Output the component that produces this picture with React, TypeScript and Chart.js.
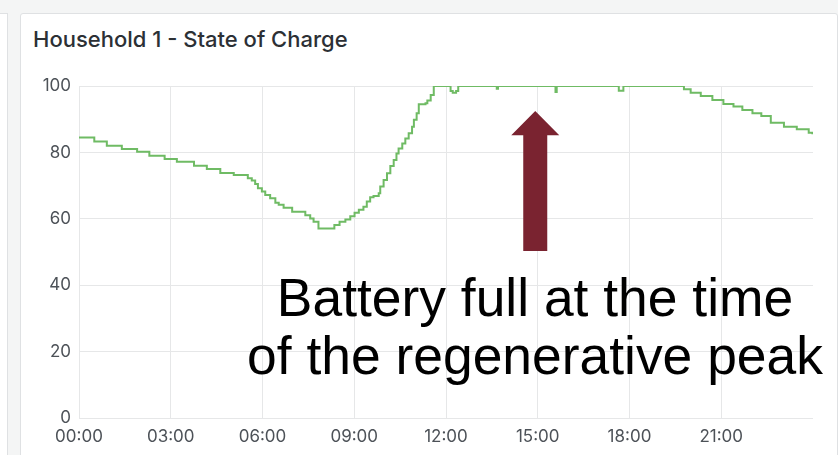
import React, { useEffect, useRef } from "react";
import { Chart, registerables } from "chart.js";

Chart.register(...registerables);

const title = "Household 1 - State of Charge";
const annotationLines = ["Battery full at the time", "of the regenerative peak"];

// time of day in hours
const hours = [
  0.0, 0.5, 0.91, 1.4, 1.9, 2.3, 2.8, 3.2, 3.76, 4.18, 4.62, 5.06, 5.52, 5.65, 5.76, 5.85, 5.98,
  6.09, 6.25, 6.42, 6.53, 6.69, 6.97, 7.4, 7.56, 7.67, 7.83, 8.35, 8.52, 8.71, 8.87, 9.01, 9.15,
  9.3, 9.41, 9.52, 9.63, 9.8, 9.85, 9.96, 10.07, 10.18, 10.29, 10.38, 10.45, 10.57, 10.67, 10.78,
  10.89, 10.95, 11.04, 11.11, 11.33, 11.39, 11.5, 11.6, 12.15, 12.22, 12.33, 12.4, 13.66, 13.7,
  15.58, 15.62, 17.65, 17.8, 19.78, 20.0, 20.33, 20.71, 21.07, 21.4, 21.69, 22.02, 22.31, 22.62,
  23.05, 23.47, 23.86, 23.98,
];
// state of charge in %
const soc = [
  84.5, 83.3, 82.0, 81.0, 80.2, 79.0, 78.0, 77.2, 76.0, 75.0, 73.8, 73.2, 72.2, 71.5, 70.5, 69.2, 68.2,
  67.2, 66.2, 64.8, 64.2, 63.3, 62.1, 61.1, 60.1, 59.1, 57.1, 58.1, 59.1, 59.8, 60.8, 61.8, 62.7,
  63.6, 65.2, 66.5, 66.9, 67.7, 69.7, 71.7, 73.7, 75.9, 77.7, 79.7, 81.2, 82.7, 84.2, 85.8,
  87.7, 89.8, 91.8, 94.5, 94.8, 95.6, 97.3, 100, 98.5, 98.0, 98.5, 100, 99.2, 100,
  98.2, 100, 98.6, 100, 99.0, 98.0, 97.0, 95.8, 94.6, 93.8, 92.8, 91.8, 91.0, 88.9,
  87.7, 87.0, 85.9, 85.5,
];

const xTickHours = [0, 3, 6, 9, 12, 15, 18, 21];
const yTickValues = [0, 20, 40, 60, 80, 100];

// annotation arrow: x in hours, y in SoC units
const arrowHour = 15;
const arrowTip = 92.5;
const arrowHeadBase = 85.2;
const arrowTail = 50.3;

const arrowPlugin = {
  id: "arrowPlugin",
  afterDatasetsDraw(chart: any) {
    const { ctx, scales } = chart;
    const cx = scales.x.getPixelForValue(arrowHour) - 2.5;
    const yTip = scales.y.getPixelForValue(arrowTip);
    const yBase = scales.y.getPixelForValue(arrowHeadBase);
    const yTail = scales.y.getPixelForValue(arrowTail);
    const headHalf = 24;
    const shaftHalf = 12;
    ctx.save();
    ctx.fillStyle = "#7a2330";
    ctx.beginPath();
    ctx.moveTo(cx, yTip);
    ctx.lineTo(cx + headHalf, yBase);
    ctx.lineTo(cx + shaftHalf, yBase);
    ctx.lineTo(cx + shaftHalf, yTail);
    ctx.lineTo(cx - shaftHalf, yTail);
    ctx.lineTo(cx - shaftHalf, yBase);
    ctx.lineTo(cx - headHalf, yBase);
    ctx.closePath();
    ctx.fill();
    ctx.restore();
  },
};

export default function App() {
  const canvasRef = useRef<HTMLCanvasElement | null>(null);

  useEffect(() => {
    if (!canvasRef.current) return;
    const points = hours.map((h, i) => ({ x: h, y: soc[i] }));
    const chart = new Chart(canvasRef.current, {
      type: "line",
      data: {
        datasets: [
          {
            label: "SoC",
            data: points,
            borderColor: "#6fbb64",
            borderWidth: 2,
            pointRadius: 0,
            stepped: "before",
            fill: false,
          },
        ],
      },
      options: {
        animation: false,
        responsive: false,
        devicePixelRatio: 1,
        layout: { padding: { top: 86, right: 25, left: 0, bottom: 0 } },
        plugins: { legend: { display: false }, tooltip: { enabled: false } },
        scales: {
          x: {
            type: "linear",
            min: 0,
            max: 24,
            afterFit: (s: any) => {
              s.height = 37;
            },
            afterBuildTicks: (s: any) => {
              s.ticks = xTickHours.map((v) => ({ value: v }));
            },
            grid: { color: "#e6e7e8", drawTicks: false, lineWidth: 1 },
            border: { display: false },
            ticks: {
              padding: 9,
              color: "#4d5258",
              font: { family: "Inter", size: 17 },
              maxRotation: 0,
              callback: (v: any) => String(v).padStart(2, "0") + ":00",
            },
          },
          y: {
            min: 0,
            max: 100,
            afterFit: (s: any) => {
              s.width = 79;
            },
            afterBuildTicks: (s: any) => {
              s.ticks = yTickValues.map((v) => ({ value: v }));
            },
            grid: { color: "#e6e7e8", drawTicks: false, lineWidth: 1 },
            border: { display: false },
            ticks: {
              padding: 8,
              color: "#4d5258",
              font: { family: "Inter", size: 17 },
            },
          },
        },
      },
      plugins: [arrowPlugin],
    });
    return () => chart.destroy();
  }, []);

  return (
    <div
      style={{
        position: "fixed",
        left: 0,
        top: 0,
        width: 838,
        height: 455,
        background: "#f4f5f5",
        overflow: "hidden",
      }}
    >
      <div
        style={{
          position: "absolute",
          left: -10,
          top: 13,
          width: 16,
          height: 460,
          background: "#ffffff",
          border: "1px solid #dfe1e3",
        }}
      />
      <div
        style={{
          position: "absolute",
          left: 20,
          top: 13,
          width: 816,
          height: 460,
          background: "#ffffff",
          border: "1px solid #dfe1e3",
          borderRadius: 3,
        }}
      />
      <div
        style={{
          position: "absolute",
          left: 33,
          top: 28,
          fontFamily: "Inter",
          fontSize: 22,
          fontWeight: 500,
          lineHeight: "22px",
          color: "#2c3035",
          whiteSpace: "nowrap",
        }}
      >
        {title}
      </div>
      <canvas
        ref={canvasRef}
        width={838}
        height={455}
        style={{ position: "absolute", left: 0, top: 0, width: 838, height: 455 }}
      />
      <div
        style={{
          position: "absolute",
          left: 235,
          width: 600,
          top: 269,
          textAlign: "center",
          fontFamily: "'Liberation Sans', Arial, sans-serif",
          fontSize: 53.4,
          lineHeight: "58px",
          color: "#000000",
          whiteSpace: "nowrap",
        }}
      >
        {annotationLines.map((l, i) => (
          <div key={i}>{l}</div>
        ))}
      </div>
    </div>
  );
}
